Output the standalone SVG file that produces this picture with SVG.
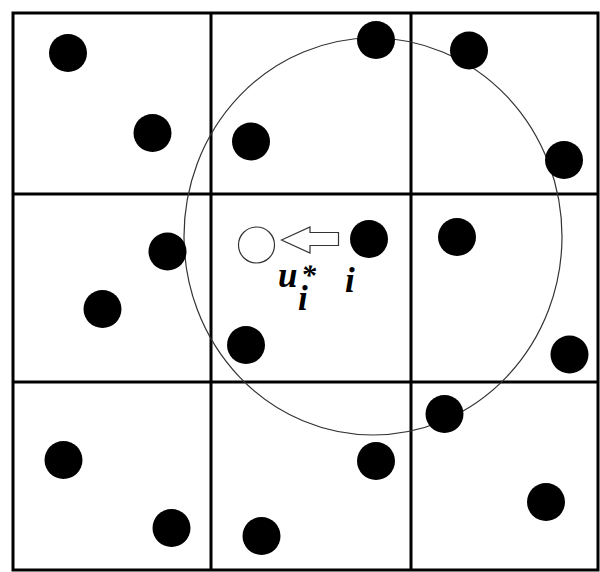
<svg xmlns="http://www.w3.org/2000/svg" width="600" height="572" viewBox="0 0 600 572">
<style>
.grid{stroke:#000;stroke-width:3;fill:none}
.dot{fill:#000}
.thin{stroke:#333;stroke-width:1.2;fill:none}
.lbl{font-family:"Liberation Serif","Times New Roman",serif;font-weight:bold;font-style:italic;fill:#000}
</style>
<rect width="600" height="572" fill="#fff"/>
<g id="grid">
<rect class="grid" x="13" y="13" width="585" height="557"/>
<line class="grid" x1="211" y1="13" x2="211" y2="570"/>
<line class="grid" x1="411" y1="13" x2="411" y2="570"/>
<line class="grid" x1="13" y1="194" x2="598" y2="194"/>
<line class="grid" x1="13" y1="382" x2="598" y2="382"/>
</g>
<g id="neighborhood">
<ellipse class="thin" cx="373" cy="236.5" rx="189" ry="198.5"/>
</g>
<g id="points">
<circle class="dot" cx="68" cy="53" r="19"/>
<circle class="dot" cx="152.5" cy="133" r="19"/>
<circle class="dot" cx="251" cy="141.5" r="19"/>
<circle class="dot" cx="376" cy="40" r="19"/>
<circle class="dot" cx="469" cy="50.5" r="19"/>
<circle class="dot" cx="564" cy="160" r="19"/>
<circle class="dot" cx="167.5" cy="251.5" r="19"/>
<circle class="dot" cx="102.5" cy="309" r="19"/>
<circle class="dot" cx="457" cy="237" r="19"/>
<circle class="dot" cx="246" cy="345" r="19"/>
<circle class="dot" cx="569.5" cy="354.5" r="19"/>
<circle class="dot" cx="444.5" cy="414" r="19"/>
<circle class="dot" cx="63.5" cy="460" r="19"/>
<circle class="dot" cx="376" cy="461" r="19"/>
<circle class="dot" cx="171.5" cy="528" r="19"/>
<circle class="dot" cx="261.5" cy="536" r="19"/>
<circle class="dot" cx="546" cy="502" r="19"/>
</g>
<g id="node-i">
<circle class="dot" cx="369" cy="239" r="19"/>
<text class="lbl" x="345" y="291.5" font-size="35">i</text>
</g>
<g id="node-u">
<circle class="thin" cx="256.5" cy="245" r="18"/>
<text class="lbl" x="278" y="287" font-size="35">u</text>
<text class="lbl" x="301" y="285" font-size="30">*</text>
<text class="lbl" x="298" y="310" font-size="35">i</text>
</g>
<g id="connectors">
<polygon class="thin" points="281.5,240 310,227 310,232.5 338.5,232.5 338.5,245.5 310,245.5 310,253" style="fill:#fff"/>
</g>
</svg>
